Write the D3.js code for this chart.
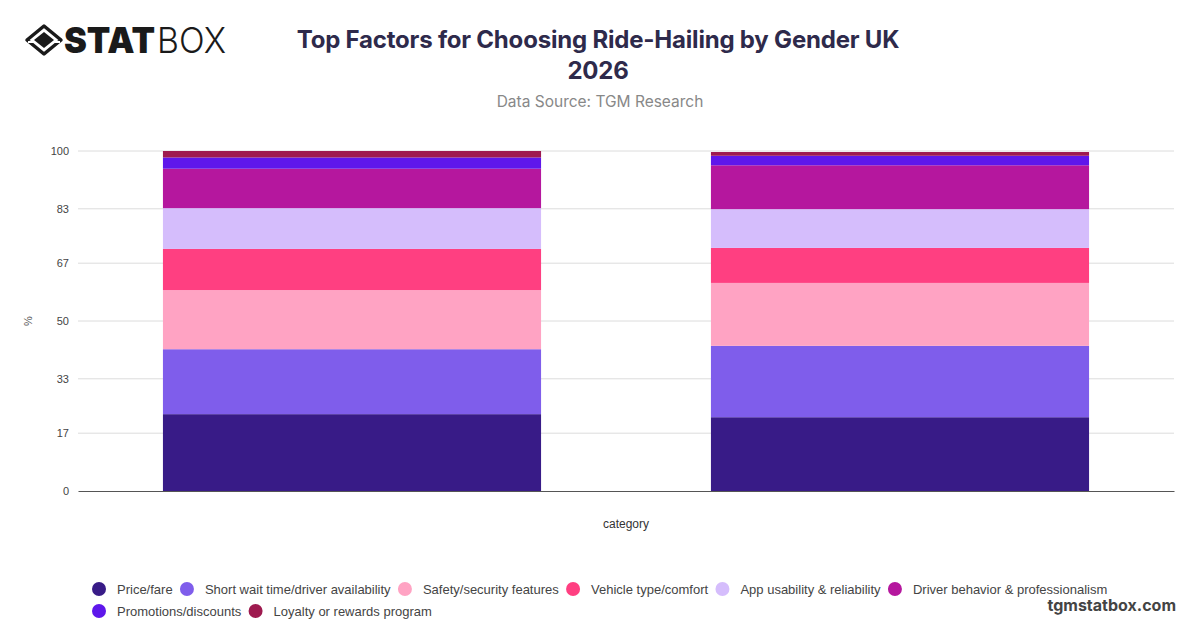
<!DOCTYPE html>
<html>
<head>
<meta charset="utf-8">
<script src="https://cdn.jsdelivr.net/npm/d3@7/dist/d3.min.js"></script>
<style>
  html, body { margin: 0; padding: 0; background: #fff; }
  svg { display: block; font-family: Inter, "Noto Sans", sans-serif; }
</style>
</head>
<body>
<svg id="chart" width="1200" height="628"></svg>
<script>
// ---- data ----
const categories = ["Male", "Female"];
const seriesNames = [
  "Price/fare",
  "Short wait time/driver availability",
  "Safety/security features",
  "Vehicle type/comfort",
  "App usability & reliability",
  "Driver behavior & professionalism",
  "Promotions/discounts",
  "Loyalty or rewards program"
];
const seriesColors = ["#381b87", "#7f5deb", "#ffa3c3", "#ff3f81", "#d5bdfc", "#b5179e", "#5e17eb", "#9e1a4f"];
const maleValues   = [22.6, 19.1, 17.4, 12.1, 12.0, 11.6, 3.3, 1.9];
const femaleValues = [21.7, 21.0, 18.5, 10.3, 11.4, 12.9, 2.8, 1.1];
const yTicks = [0, 17, 33, 50, 67, 83, 100];

const titleLines = ["Top Factors for Choosing Ride-Hailing by Gender UK", "2026"];
const subtitle = "Data Source: TGM Research";

// ---- build table ----
const table = categories.map((c, i) => {
  const row = { category: c };
  const vals = i === 0 ? maleValues : femaleValues;
  seriesNames.forEach((s, j) => row[s] = vals[j]);
  return row;
});

const svg = d3.select("#chart");
const W = 1200, H = 628;
const helv = "'Liberation Sans', Arial, Helvetica, sans-serif";
const m = { left: 78, right: 26, top: 151, bottom: 137 };
const plotW = W - m.left - m.right, plotH = H - m.top - m.bottom;

const x = d3.scaleBand().domain(categories).range([m.left, m.left + plotW])
  .paddingInner(0.31).paddingOuter(0.155);
const y = d3.scaleLinear().domain([0, 100]).range([m.top + plotH, m.top]);
const color = d3.scaleOrdinal().domain(seriesNames).range(seriesColors);

// gridlines
svg.append("g").selectAll("line").data(yTicks.filter(t => t > 0)).join("line")
  .attr("x1", m.left).attr("x2", m.left + plotW)
  .attr("y1", d => y(d)).attr("y2", d => y(d))
  .attr("stroke", "#dcdcdc").attr("stroke-width", 1);

// y axis labels
const yAxis = d3.axisLeft(y).tickValues(yTicks).tickSize(0).tickPadding(9);
const yg = svg.append("g").attr("transform", `translate(${m.left},0)`).call(yAxis);
yg.select(".domain").remove();
yg.selectAll("text").attr("font-size", 11).attr("fill", "#444")
  .attr("font-family", helv);

// stacked bars
const stack = d3.stack().keys(seriesNames);
const layers = stack(table);
svg.append("g").selectAll("g").data(layers).join("g")
  .attr("fill", d => color(d.key))
  .selectAll("rect").data(d => d).join("rect")
  .attr("x", d => x(d.data.category))
  .attr("width", x.bandwidth())
  .attr("y", d => y(d[1]))
  .attr("height", d => y(d[0]) - y(d[1]));

// x axis baseline
const xAxis = d3.axisBottom(x).tickSize(0).tickFormat("");
const xg = svg.append("g").attr("transform", `translate(0,${y(0)})`).call(xAxis);
xg.select(".domain").attr("stroke", "#555").attr("stroke-width", 1.2);

// axis titles
svg.append("text").attr("x", m.left + plotW / 2).attr("y", 528)
  .attr("text-anchor", "middle").attr("font-size", 12).attr("fill", "#333")
  .attr("font-family", helv).text("category");
svg.append("text").attr("transform", `translate(32,${y(50)}) rotate(-90)`)
  .attr("text-anchor", "middle").attr("font-size", 11).attr("fill", "#555")
  .attr("font-family", helv).text("%");

// title
svg.append("g").selectAll("text").data(titleLines).join("text")
  .attr("x", 598).attr("y", (d, i) => 48 + i * 31)
  .attr("text-anchor", "middle").attr("font-size", 24).attr("font-weight", 700)
  .attr("fill", "#2e2a4b").attr("letter-spacing", -0.2)
  .text(d => d);
svg.append("text").attr("x", 600).attr("y", 107).attr("text-anchor", "middle")
  .attr("font-size", 15.5).attr("fill", "#888").text(subtitle);

// legend
const legendRows = [seriesNames.slice(0, 6), seriesNames.slice(6)];
const lg = svg.append("g");
legendRows.forEach((row, ri) => {
  let cx = 99;
  const cy = 589 + ri * 22;
  row.forEach(name => {
    lg.append("circle").attr("cx", cx).attr("cy", cy).attr("r", 7).attr("fill", color(name));
    const t = lg.append("text").attr("x", cx + 18).attr("y", cy + 4.5)
      .attr("font-size", 13).attr("fill", "#444").attr("font-family", helv).text(name);
    const w = t.node().getComputedTextLength();
    cx = cx + 18 + w + 14.3;
  });
});

// watermark
svg.append("text").attr("x", 1176).attr("y", 611).attr("text-anchor", "end")
  .attr("font-size", 16).attr("font-weight", 700).attr("fill", "#444")
  .text("tgmstatbox.com");

// logo
const logo = svg.append("g").attr("transform", "translate(44,40)");
logo.append("path")
  .attr("d", "M0,-14 L17,0 L0,14 L-17,0 Z")
  .attr("fill", "none").attr("stroke", "#1a1a1a").attr("stroke-width", 3.5)
  .attr("stroke-linejoin", "round");
logo.append("path").attr("d", "M0,-8 L10,0 L0,8 L-10,0 Z").attr("fill", "#1a1a1a");
logo.append("line").attr("x1", -16).attr("y1", 2).attr("x2", -10).attr("y2", 2)
  .attr("stroke", "#fff").attr("stroke-width", 2);
logo.append("line").attr("x1", 10).attr("y1", 2).attr("x2", 16).attr("y2", 2)
  .attr("stroke", "#fff").attr("stroke-width", 2);
svg.append("text").attr("x", 64).attr("y", 53).attr("font-size", 36)
  .attr("font-weight", 900).attr("fill", "#1a1a1a")
  .attr("textLength", 91).attr("lengthAdjust", "spacingAndGlyphs").text("STAT");
svg.append("text").attr("x", 157).attr("y", 53).attr("font-size", 36)
  .attr("font-weight", 300).attr("fill", "#1a1a1a")
  .attr("textLength", 69).attr("lengthAdjust", "spacingAndGlyphs").text("BOX");
</script>
</body>
</html>
